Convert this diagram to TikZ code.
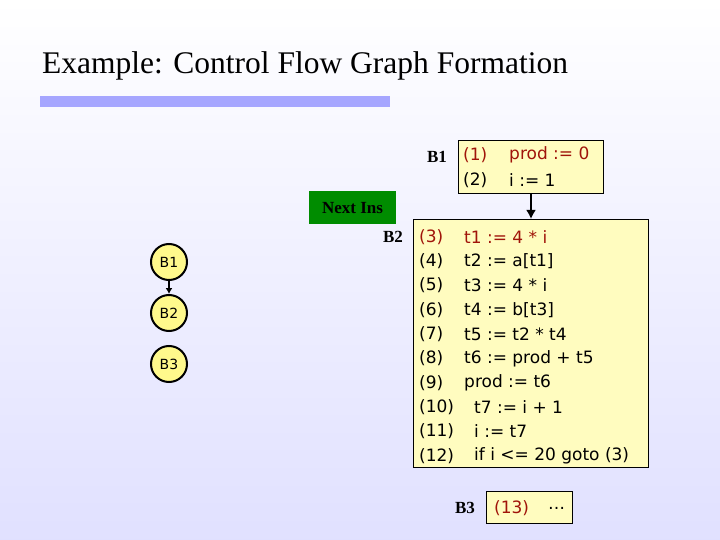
\documentclass[tikz,border=0pt]{standalone}
\usepackage{fontspec}
\usetikzlibrary{arrows.meta}
\newfontfamily\vs{DejaVu Sans}
\setmainfont{Liberation Serif}
\begin{document}
\begin{tikzpicture}[x=1pt,y=-1pt,
 code/.style={font=\vs\fontsize{17}{19}\selectfont,anchor=west,inner sep=0},
 lab/.style={font=\bfseries\fontsize{17}{19}\selectfont,inner sep=0},
 box/.style={draw=black,fill=yellow!25!white,line width=0.8pt},
 circ/.style={circle,draw,line width=2pt,fill=yellow!45!white,minimum size=36pt,inner sep=0,font=\vs\fontsize{14}{15}\selectfont}]
\definecolor{dred}{RGB}{160,20,10}
\shade[top color=white,bottom color=blue!12!white] (0,0) rectangle (720,540);
\useasboundingbox (0,0) rectangle (720,540);
\node[anchor=west,inner sep=0,font=\fontsize{31.5}{34}\selectfont] (title) at (42,66) {Example: Control Flow Graph Formation};
\fill[blue!35!white] (40,96) rectangle (390,107);
% B1
\draw[box] (458,140) rectangle (603,193);
\coordinate (b1b) at (531,193);
\node[lab] (l1) at (437,157) {B1};
\node[code,text=dred] (c1a) at (463,155) {(1)};
\node[code,text=dred] (c1b) at (509,155) {prod := 0};
\node[code] (c2a) at (463,180) {(2)};
\node[code] (c2b) at (509,180) {i := 1};
% B2
\draw[box] (413,219) rectangle (648,467);
\coordinate (b2t) at (531,219);
\draw[line width=2.5pt,-{Latex[length=9pt,width=10pt]}] (b1b) -- (b2t);
\node[lab] (l2) at (393,237) {B2};
\foreach \n/\t [count=\i from 0] in {(3)/{t1 := 4 * i},(4)/{t2 := a[t1]},(5)/{t3 := 4 * i},(6)/{t4 := b[t3]},(7)/{t5 := t2 * t4},(8)/{t6 := prod + t5},(9)/{prod := t6}}{
 \ifnum\i=0 \def\cc{dred}\else\def\cc{black}\fi
 \node[code,text=\cc] (n\i) at (419,237+24.3*\i) {\n};
 \node[code,text=\cc] (t\i) at (464,237+24.3*\i) {\t};
}
\foreach \n/\t [count=\i from 7] in {(10)/{t7 := i + 1},(11)/{i := t7},(12)/{if i <= 20 goto (3)}}{
 \node[code] (n\i) at (419,237+24.3*\i) {\n};
 \node[code] (t\i) at (474,237+24.3*\i) {\t};
}
% B3
\draw[box] (486,491) rectangle (572,523);
\node[lab] (l3) at (465,508) {B3};
\node[code,text=dred] (c13) at (494,508) {(13)};
\node[code] (c13b) at (548,508) {…};
% Next Ins
\node[fill=green!55!black,minimum width=87pt,minimum height=33pt,inner sep=0,font=\bfseries\fontsize{17}{19}\selectfont] (ni) at (352.5,208) {Next Ins};
% small graph
\node[circ] (g1) at (169,262) {B1};
\node[circ] (g2) at (169,313) {B2};
\node[circ] (g3) at (169,364) {B3};
\draw[line width=2pt,-{Latex[length=6pt,width=7pt]}] (g1) -- (g2);
\end{tikzpicture}
\end{document}
